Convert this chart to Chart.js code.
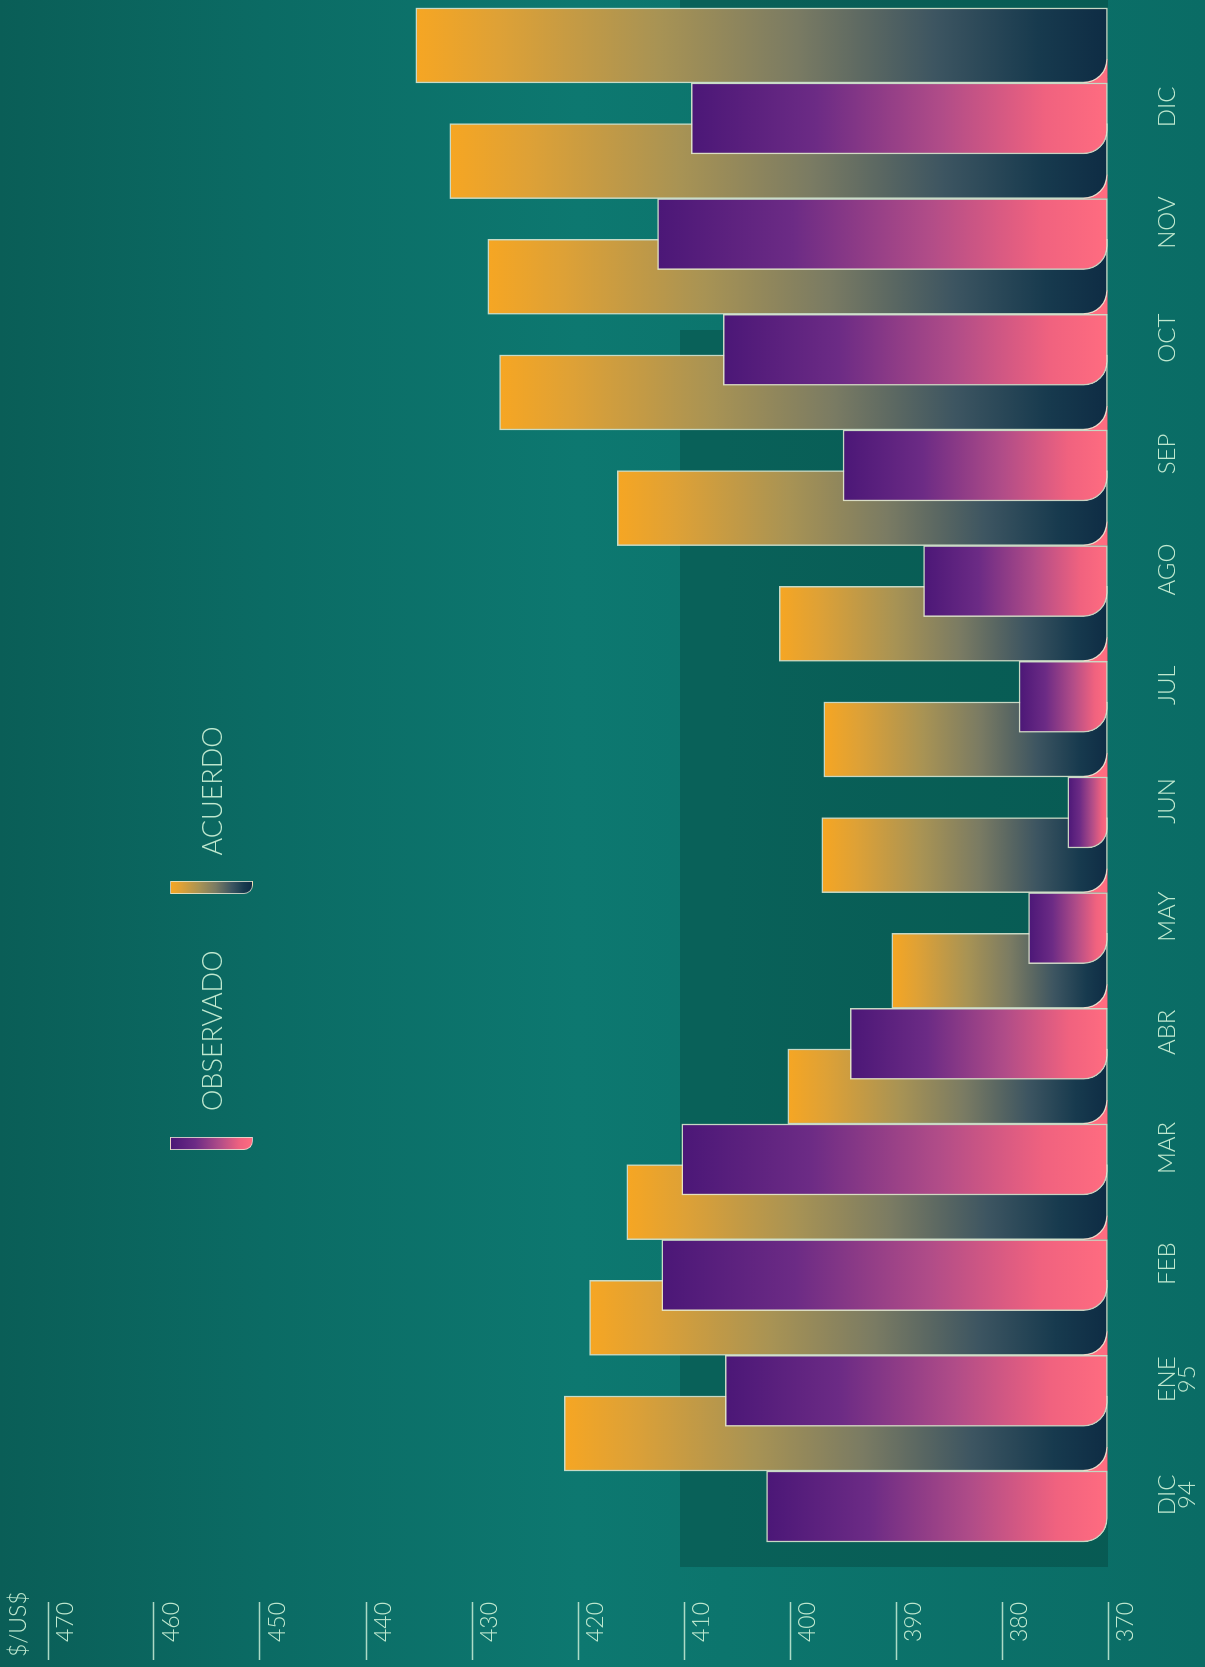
<!DOCTYPE html>
<html>
<head>
<meta charset="utf-8">
<script src="https://cdn.jsdelivr.net/npm/chart.js@4.4.1/dist/chart.umd.min.js"></script>
<style>
  html, body { margin: 0; padding: 0; }
  body {
    width: 1205px; height: 1667px; overflow: hidden; position: relative;
    background: linear-gradient(90deg, #0a5e57 0%, #0b6b64 22%, #0d7870 48%, #0c756d 60%, #0a6c65 100%);
    font-family: Lato, "Open Sans", sans-serif;
  }
  .shade { position: absolute; background: rgba(0, 32, 26, 0.24); }
  /* the chart is drawn upright and then turned a quarter to the left */
  #frame {
    position: absolute; left: 0; top: 0; width: 1667px; height: 1205px;
    transform-origin: 0 0; transform: translateY(1667px) rotate(-90deg);
  }
  #chart { position: absolute; left: 0; top: 0; }
  #key { position: absolute; left: 517px; top: 170px; display: flex; gap: 56px; }
  .item { display: flex; align-items: center; gap: 26px; }
  .swatch { width: 13px; height: 83px; border-bottom-left-radius: 9px; border: 1px solid rgba(230,235,215,0.8); box-sizing: border-box; }
  .item span { font-size: 27px; font-weight: 300; color: #bfe8cf; }
</style>
</head>
<body>
<div class="shade" style="left:680px; top:330px; width:428px; height:1237px;"></div>
<div class="shade" style="left:680px; top:0; width:428px; height:78px;"></div>
<div id="frame">
  <canvas id="chart" width="1667" height="1205"></canvas>
  <div id="key"></div>
</div>
<script>
// months Dec 94 .. Dec 95
const months = [["DIC", "94"], ["ENE", "95"], "FEB", "MAR", "ABR", "MAY", "JUN", "JUL", "AGO", "SEP", "OCT", "NOV", "DIC"];
const observado = [402.2, 406.1, 412.1, 410.2, 394.3, 377.5, 373.8, 378.4, 387.4, 395.0, 406.3, 412.5, 409.3];
const acuerdo = [421.3, 418.9, 415.4, 400.2, 390.4, 397.0, 396.8, 401.0, 416.3, 427.4, 428.5, 432.1, 435.3];
const seriesNames = ["OBSERVADO", "ACUERDO"];
const unitLabel = "$/US$";
const axisMin = 370;
const axisMax = 470;

const textColor = "#bfe8cf";
const fontFamily = "Lato, 'Open Sans', sans-serif";
const edge = "rgba(232,236,214,0.85)";
const corner = 24;

// colour stops from the tip of a bar down to its base
const obsStops = [[0, "#4b1777"], [0.3, "#6c2b85"], [0.6, "#b04c88"], [0.85, "#f0627f"], [1, "#ff6c80"]];
const acuStops = [[0, "#f6a623"], [0.12, "#dea136"], [0.35, "#a89354"], [0.55, "#7a7b63"], [0.75, "#3d5561"], [0.9, "#173a4e"], [1, "#0e2c44"]];

function barFill(stops) {
  return (ctx) => {
    const chart = ctx.chart;
    if (ctx.type !== "data" || !chart.chartArea) return stops[stops.length - 1][1];
    const y = chart.scales.y;
    const top = y.getPixelForValue(ctx.parsed.y);
    const base = y.getPixelForValue(axisMin);
    const g = chart.ctx.createLinearGradient(0, top, 0, base);
    stops.forEach(([o, c]) => g.addColorStop(o, c));
    return g;
  };
}

// pink showing through under the rounded foot of each ACUERDO bar
const footFill = {
  id: "footFill",
  beforeDatasetDraw(chart, args) {
    if (args.index !== 1) return;
    const c = chart.ctx;
    c.save();
    c.fillStyle = obsStops[obsStops.length - 1][1];
    args.meta.data.forEach((el) => {
      const p = el.getProps(["x", "width", "base"], true);
      c.fillRect(p.x - p.width / 2, p.base - corner, corner, corner);
    });
    c.restore();
  }
};

const common = {
  base: axisMin,
  borderColor: edge,
  borderWidth: 1.5,
  borderSkipped: false,
  borderRadius: { topLeft: 0, topRight: 0, bottomLeft: corner, bottomRight: 0 }
};

new Chart(document.getElementById("chart"), {
  type: "bar",
  plugins: [footFill],
  data: {
    datasets: [
      Object.assign({
        label: seriesNames[0],
        data: observado.map((v, i) => ({ x: i, y: v })),
        order: 0,
        barThickness: 71,
        backgroundColor: barFill(obsStops)
      }, common),
      Object.assign({
        label: seriesNames[1],
        data: acuerdo.map((v, i) => ({ x: i, y: v })),
        order: 1,
        barThickness: 75,
        backgroundColor: barFill(acuStops)
      }, common)
    ]
  },
  options: {
    responsive: false,
    animation: false,
    layout: { padding: { left: 10, top: 0, right: 0, bottom: 0 } },
    plugins: {
      legend: { display: false },
      tooltip: { enabled: false },
      title: {
        display: true,
        text: unitLabel,
        align: "start",
        color: textColor,
        font: { family: fontFamily, size: 23, weight: "300", lineHeight: 1 },
        padding: { top: 7, bottom: 18 }
      }
    },
    scales: {
      x: {
        type: "linear",
        offset: false,
        min: -1.1325,
        max: 12.717,
        grid: { display: false, offset: false },
        border: { display: false },
        ticks: {
          stepSize: 1,
          includeBounds: false,
          autoSkip: false,
          maxRotation: 0,
          minRotation: 0,
          padding: 41,
          labelOffset: -24,
          color: textColor,
          font: { family: fontFamily, size: 24, weight: "300", lineHeight: 0.85 },
          callback: (v) => (Number.isInteger(v) && months[v] !== undefined ? months[v] : "")
        },
        afterFit: (axis) => { axis.height = 97; }
      },
      y: {
        min: axisMin,
        max: axisMax,
        border: { display: false },
        grid: {
          drawOnChartArea: false,
          drawTicks: true,
          tickLength: 58,
          tickColor: "rgba(200,236,214,0.85)",
          tickWidth: 1.5
        },
        ticks: {
          stepSize: 10,
          padding: -58,
          labelOffset: 18,
          color: textColor,
          font: { family: fontFamily, size: 23, weight: "300" }
        },
        afterFit: (axis) => { axis.width = 55; }
      }
    }
  }
});

// legend
const key = document.getElementById("key");
[obsStops, acuStops].forEach((stops, i) => {
  const item = document.createElement("div");
  item.className = "item";
  const sw = document.createElement("div");
  sw.className = "swatch";
  sw.style.background = "linear-gradient(to bottom, " + stops.map(([o, c]) => c + " " + (o * 100) + "%").join(", ") + ")";
  const label = document.createElement("span");
  label.textContent = seriesNames[i];
  item.appendChild(sw);
  item.appendChild(label);
  key.appendChild(item);
});
</script>
</body>
</html>
